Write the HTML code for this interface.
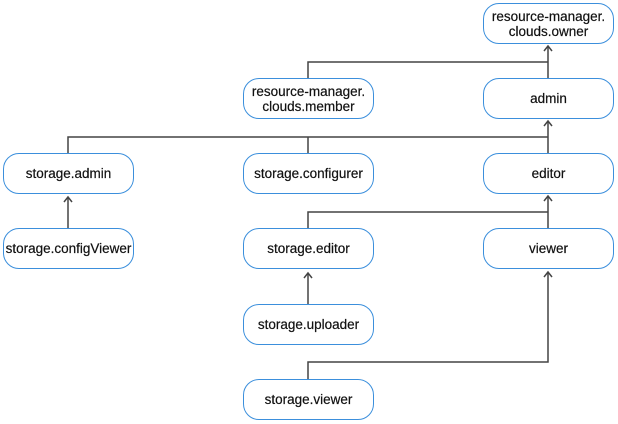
<!DOCTYPE html>
<html><head><meta charset="utf-8"><style>
body{margin:0;width:618px;height:424px;background:#fff;position:relative;overflow:hidden;font-family:"Liberation Sans",sans-serif}
.b{position:absolute;width:129px;height:39px;border:1.5px solid #3b8fdc;border-radius:16px;background:#fff;display:flex;align-items:center;justify-content:center;text-align:center;font-size:13.5px;line-height:15px;color:#111;-webkit-text-stroke:0.2px #111}
svg{position:absolute;left:0;top:0}
</style></head><body>
<svg width="618" height="424" fill="none" stroke="#444" stroke-width="1.5">
<path d="M308 78V62H548M548 78V46"/>
<path d="M68 153V137H548M308 153V137M548 153V121"/>
<path d="M68 228V197"/>
<path d="M308 228V212H548M548 228V196"/>
<path d="M308 304V273"/>
<path d="M308 379V362H548V272"/>
<path d="M544 51L548 46L552 51M544 126L548 121L552 126M64 202L68 197L72 202M544 201L548 196L552 201M304 278L308 273L312 278M544 277L548 272L552 277"/>
</svg>
<div class="b" style="left:483px;top:3px">resource-manager.<br>clouds.owner</div>
<div class="b" style="left:243px;top:78px">resource-manager.<br>clouds.member</div>
<div class="b" style="left:483px;top:78px">admin</div>
<div class="b" style="left:3px;top:153px">storage.admin</div>
<div class="b" style="left:243px;top:153px">storage.configurer</div>
<div class="b" style="left:483px;top:153px">editor</div>
<div class="b" style="left:3px;top:228px">storage.configViewer</div>
<div class="b" style="left:243px;top:228px">storage.editor</div>
<div class="b" style="left:483px;top:228px">viewer</div>
<div class="b" style="left:243px;top:304px">storage.uploader</div>
<div class="b" style="left:243px;top:379px">storage.viewer</div>
</body></html>
